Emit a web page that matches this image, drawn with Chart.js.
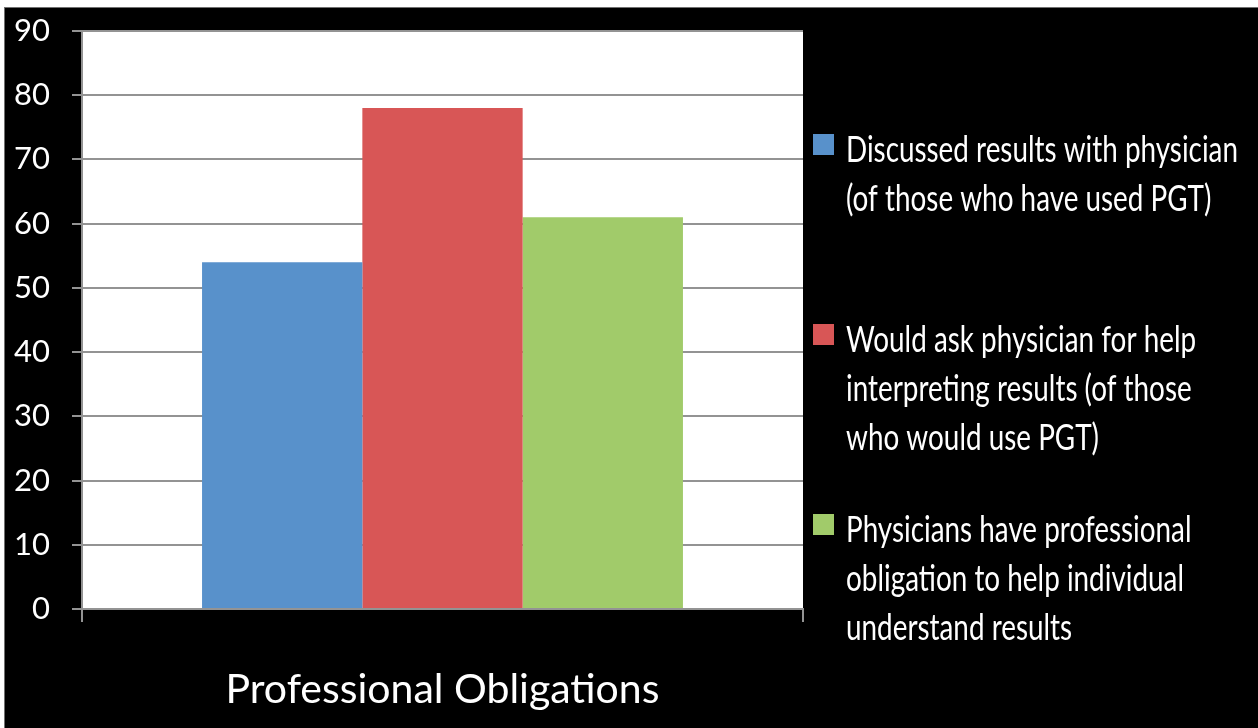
<!DOCTYPE html>
<html>
<head>
<meta charset="utf-8">
<script src="https://cdn.jsdelivr.net/npm/chart.js@4.4.1/dist/chart.umd.min.js"></script>
<style>
  html, body { margin: 0; padding: 0; background: #ffffff; }
  #c { display: block; }
</style>
</head>
<body>
<canvas id="c" width="1258" height="728"></canvas>
<script>
// Chart data
const categories = ['Professional Obligations'];
const seriesNames = [
  'Discussed results with physician\n(of those who have used PGT)',
  'Would ask physician for help\ninterpreting results (of those\nwho would use PGT)',
  'Physicians have professional\nobligation to help individual\nunderstand results'
];
const discussedValues = [54];
const wouldAskValues = [78];
const obligationValues = [61];
const yTickValues = [0, 10, 20, 30, 40, 50, 60, 70, 80, 90];

const seriesColors = ['#5891cb', '#d85656', '#a1cb6a'];
const gridGray = '#939393';

Chart.defaults.font.family = 'Lato, "Open Sans", sans-serif';
Chart.defaults.color = '#ffffff';

// Slide-style framing: black panel with a thin light margin, white plot area
const framePlugin = {
  id: 'frame',
  beforeDraw(chart) {
    const { ctx, width, height, chartArea } = chart;
    ctx.save();
    ctx.fillStyle = '#ffffff';
    ctx.fillRect(0, 0, width, height);
    ctx.fillStyle = '#707070';
    ctx.fillRect(4, 7, width - 4, height - 7);
    ctx.fillStyle = '#000000';
    ctx.fillRect(5, 8, width - 5, height - 8);
    ctx.fillStyle = '#ffffff';
    ctx.fillRect(chartArea.left, chartArea.top,
                 chartArea.right - chartArea.left, chartArea.bottom - chartArea.top);
    ctx.restore();
  }
};

// Legend drawn to the right of the plot, with multi-line, tightly set labels
const sideLegendPlugin = {
  id: 'sideLegend',
  afterDraw(chart) {
    const { ctx, chartArea } = chart;
    const fontSize = 36;
    const lineGap = 49;
    const itemGap = 190;
    const textWidth = 392;
    const boxSize = 21;
    const boxX = chartArea.right + 10;
    const textX = chartArea.right + 43;
    const firstBaseline = chartArea.top + 131;

    ctx.save();
    ctx.font = fontSize + 'px Lato, "Open Sans", sans-serif';
    ctx.textBaseline = 'alphabetic';
    ctx.textAlign = 'left';

    const items = chart.data.datasets.map(ds => ({
      lines: ds.label.split('\n'),
      color: ds.backgroundColor
    }));
    let widest = 0;
    items.forEach(it => it.lines.forEach(l => {
      widest = Math.max(widest, ctx.measureText(l).width);
    }));
    const squeeze = Math.min(1, textWidth / widest);

    items.forEach((it, i) => {
      const base = firstBaseline + i * itemGap;
      ctx.fillStyle = it.color;
      ctx.fillRect(boxX, base - 28, boxSize, boxSize);
      ctx.fillStyle = '#ffffff';
      it.lines.forEach((line, j) => {
        const w = ctx.measureText(line).width * squeeze;
        ctx.fillText(line, textX, base + j * lineGap, w);
      });
    });
    ctx.restore();
  }
};

new Chart(document.getElementById('c'), {
  type: 'bar',
  data: {
    labels: categories,
    datasets: [
      { label: seriesNames[0], data: discussedValues, backgroundColor: seriesColors[0] },
      { label: seriesNames[1], data: wouldAskValues, backgroundColor: seriesColors[1] },
      { label: seriesNames[2], data: obligationValues, backgroundColor: seriesColors[2] }
    ]
  },
  options: {
    responsive: false,
    animation: false,
    devicePixelRatio: 1,
    categoryPercentage: 0.667,
    barPercentage: 1.0,
    layout: { padding: { top: 31, right: 455, left: 0, bottom: 0 } },
    plugins: {
      legend: { display: false },
      tooltip: { enabled: false },
      title: { display: false }
    },
    scales: {
      x: {
        afterFit(scale) {
          scale.height = 119;
          scale.paddingLeft = 0;
          scale.paddingRight = 0;
        },
        grid: {
          offset: true,
          drawOnChartArea: false,
          drawTicks: true,
          tickLength: 13,
          color: gridGray,
          lineWidth: 2
        },
        border: { display: true, color: gridGray, width: 2 },
        ticks: {
          color: '#ffffff',
          font: { size: 41 },
          padding: 43
        }
      },
      y: {
        min: 0,
        max: 90,
        afterFit(scale) {
          scale.width = 82;
          scale.paddingTop = 0;
          scale.paddingBottom = 0;
        },
        afterBuildTicks(scale) {
          scale.ticks = yTickValues.map(v => ({ value: v }));
        },
        grid: {
          color: gridGray,
          lineWidth: 2,
          drawTicks: true,
          tickLength: 10
        },
        border: { display: true, color: gridGray, width: 2 },
        ticks: {
          color: '#ffffff',
          font: { size: 31 },
          padding: 22
        }
      }
    }
  },
  plugins: [framePlugin, sideLegendPlugin]
});
</script>
</body>
</html>
